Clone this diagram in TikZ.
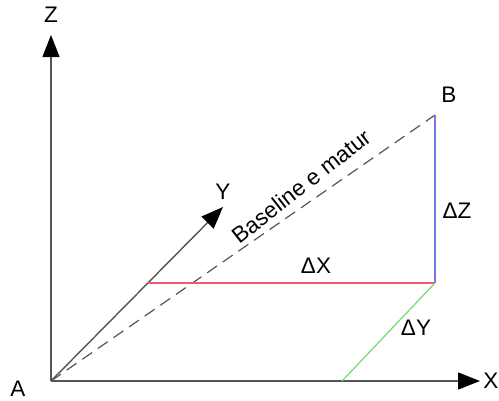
\documentclass[tikz,border=0pt]{standalone}
\usepackage{fontspec}
\setmainfont{Liberation Sans}
\usetikzlibrary{arrows.meta}
\definecolor{axisgray}{HTML}{555555}
\definecolor{lred}{HTML}{F05A6E}
\definecolor{lblue}{HTML}{7878E6}
\definecolor{lgreen}{HTML}{6EDC6E}
\tikzset{
  lbl/.style={font=\fontsize{22.5}{26}\selectfont, inner sep=0pt},
  axis/.style={draw=axisgray, line width=1.4pt, -{Triangle[length=22pt,width=17pt,fill=black,color=black]}},
  seg/.style={line width=1.2pt},
}
\begin{document}
\begin{tikzpicture}[x=1pt,y=-1pt]
\useasboundingbox (0,0) rectangle (499,400);
\coordinate (A) at (51,381);
\coordinate (Ztip) at (51,35);
\coordinate (Xtip) at (480,381);
\coordinate (Ytip) at (223,207);
\coordinate (B) at (435,115);
\coordinate (C) at (435,283);
\coordinate (D) at (148,283);
\coordinate (E) at (342,381);
% axes
\draw[axis] (A) -- (Ztip);
\draw[axis] (A) -- (Xtip);
\draw[axis] (A) -- (Ytip);
% baseline
\draw[draw=axisgray, line width=1.2pt, dash pattern=on 12pt off 7pt] (A) -- (B);
% components
\draw[seg, lred] (D) -- (C);
\draw[seg, lblue] (C) -- (B);
\draw[seg, lgreen] (C) -- (E);
% labels
\node[lbl] (lA) at (18,389) {A};
\node[lbl] (lB) at (449,95) {B};
\node[lbl] (lZ) at (51,15) {Z};
\node[lbl] (lX) at (491,381) {X};
\node[lbl] (lY) at (223,192) {Y};
\node[lbl] (dX) at (316,266) {ΔX};
\node[lbl] (dY) at (416,328) {ΔY};
\node[lbl] (dZ) at (457,211) {ΔZ};
\node[lbl, rotate=38] (bl) at (301,186) {Baseline e matur};
\end{tikzpicture}
\end{document}
